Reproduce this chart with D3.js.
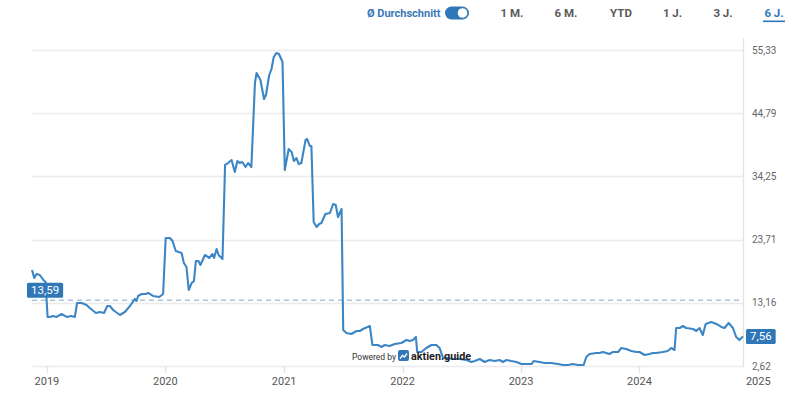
<!DOCTYPE html>
<html>
<head>
<meta charset="utf-8">
<script src="https://cdn.jsdelivr.net/npm/d3@7/dist/d3.min.js"></script>
<style>
  html, body { margin: 0; padding: 0; background: #fff; }
  svg { display: block; font-family: Roboto, "Noto Sans", Arial, sans-serif; }
</style>
</head>
<body>
<svg id="chart" width="800" height="400"></svg>
<script>
// ---------- DATA ----------
const dates = [
  "2018-11-16","2018-11-23","2018-11-30","2018-12-10","2018-12-21","2018-12-28",
  "2019-01-03","2019-01-10","2019-01-20","2019-01-31","2019-02-15","2019-03-03","2019-03-18","2019-03-28",
  "2019-04-04","2019-04-18","2019-05-03","2019-05-13","2019-06-01","2019-06-13","2019-06-26","2019-07-06",
  "2019-07-14","2019-07-24","2019-08-14","2019-08-29","2019-09-14","2019-09-29","2019-10-04","2019-10-09",
  "2019-10-20","2019-11-01","2019-11-09","2019-11-24","2019-12-13","2019-12-25",
  "2020-01-02","2020-01-15","2020-01-23","2020-02-02","2020-02-20","2020-02-27","2020-03-06","2020-03-13",
  "2020-03-22","2020-03-29","2020-04-04","2020-04-12","2020-04-18","2020-05-02","2020-05-15","2020-05-25",
  "2020-05-30","2020-06-07","2020-06-13","2020-06-25","2020-07-03","2020-07-12","2020-07-23","2020-08-02",
  "2020-08-10","2020-08-17","2020-08-25","2020-09-04","2020-09-12","2020-09-22","2020-10-03","2020-10-08",
  "2020-10-20","2020-10-31","2020-11-06","2020-11-16","2020-11-23","2020-11-30","2020-12-08","2020-12-16",
  "2020-12-27",
  "2021-01-03","2021-01-15","2021-01-24","2021-01-31","2021-02-08","2021-02-15","2021-02-23","2021-03-08",
  "2021-03-13","2021-03-21","2021-03-26","2021-04-02","2021-04-11","2021-04-19","2021-04-26","2021-05-08",
  "2021-05-22","2021-06-01","2021-06-09","2021-06-16","2021-06-27","2021-07-02","2021-07-12","2021-07-27",
  "2021-08-12","2021-08-22","2021-09-01","2021-09-22","2021-09-30","2021-10-17","2021-10-28","2021-11-07",
  "2021-11-22","2021-12-08","2021-12-28",
  "2022-01-13","2022-01-23","2022-02-02","2022-02-11","2022-02-15","2022-02-28","2022-03-15","2022-03-31",
  "2022-04-15","2022-04-25","2022-05-06","2022-05-21","2022-06-05","2022-06-26","2022-07-17","2022-08-01",
  "2022-08-11","2022-08-27","2022-09-11","2022-09-26","2022-10-12","2022-10-27","2022-11-06","2022-11-17",
  "2022-12-02","2022-12-18",
  "2023-01-02","2023-01-17","2023-02-02","2023-02-09","2023-02-27","2023-03-15","2023-04-04","2023-04-25",
  "2023-05-10","2023-05-26","2023-06-10","2023-06-25","2023-07-13","2023-07-21","2023-07-31","2023-08-21",
  "2023-08-31","2023-09-10","2023-10-01","2023-10-11","2023-10-27","2023-11-06","2023-11-21","2023-12-07",
  "2023-12-22",
  "2024-01-01","2024-01-17","2024-02-01","2024-02-11","2024-02-22","2024-03-13","2024-03-28","2024-04-08",
  "2024-04-18","2024-04-23","2024-05-04","2024-05-14","2024-05-24","2024-06-14","2024-06-24","2024-07-04",
  "2024-07-14","2024-07-23","2024-08-09","2024-08-25","2024-09-09","2024-09-19","2024-10-02","2024-10-15",
  "2024-10-25","2024-11-04","2024-11-15"
];
const prices = [
  18.63,17.30,17.97,17.80,16.97,16.63,
  10.80,10.80,10.96,10.80,11.29,10.80,10.96,10.80,
  13.13,13.13,12.80,12.30,11.46,11.63,11.46,12.63,
  12.63,11.96,11.13,11.63,12.63,13.80,13.46,14.30,
  14.63,14.63,14.80,14.30,14.13,14.63,
  23.97,23.97,23.47,21.80,21.47,19.80,19.13,15.30,
  16.46,16.80,20.13,20.13,19.47,21.14,20.64,21.30,
  20.64,22.14,21.14,20.47,36.15,36.48,36.98,34.98,
  36.81,36.48,36.65,35.81,36.48,35.81,49.83,51.49,
  50.33,47.16,47.83,51.16,52.16,54.16,54.83,54.66,
  53.33,
  35.31,38.82,38.32,36.81,37.31,36.31,36.48,40.32,
  40.48,39.32,39.32,26.64,25.81,26.31,26.47,27.97,
  28.14,29.64,29.47,27.47,28.81,8.63,8.13,7.96,
  8.46,8.46,8.79,9.29,6.12,6.12,5.79,6.12,
  5.96,6.29,6.46,
  6.96,6.79,6.96,7.46,4.96,4.96,5.62,6.12,
  6.12,5.62,3.95,3.95,3.79,3.79,3.62,3.29,
  3.45,3.79,3.29,3.62,3.45,3.62,3.29,3.62,
  3.45,3.29,
  2.95,2.95,2.95,3.45,3.29,3.12,3.12,2.95,
  2.79,2.79,2.95,2.79,2.79,4.12,4.62,4.79,
  4.79,4.96,4.62,4.96,4.96,5.62,5.46,5.12,
  4.96,
  4.96,4.45,4.62,4.79,4.79,4.96,5.12,5.62,
  5.29,8.96,8.96,9.29,8.96,8.79,8.46,8.96,
  7.79,9.63,9.96,9.63,9.13,8.96,9.79,8.96,
  7.46,6.96,7.56
];
const averageValue = 13.59;
const yTickValues = [2.62, 13.16, 23.71, 34.25, 44.79, 55.33];
const xTickYears = [2019, 2020, 2021, 2022, 2023, 2024, 2025];
const periodButtons = ["1 M.", "6 M.", "YTD", "1 J.", "3 J.", "6 J."];
const activePeriod = "6 J.";
const averageToggleLabel = "Ø Durchschnitt";

// ---------- LAYOUT ----------
const plot = { left: 32, right: 743, top: 50, bottom: 366, axisTop: 38 };
const buttonCenters = [512, 566, 621, 672.5, 723, 774];
const COLORS = {
  line: "#3d86c6", label: "#2f77b7", grid: "#ebebeb", axis: "#e3e3e3",
  avg: "#a8c3e2", tickText: "#666", yearText: "#555", btn: "#5a5a5a"
};

const parse = d3.timeParse("%Y-%m-%d");
const data = dates.map((d, i) => ({ date: parse(d), value: prices[i] }));
const fmt = v => d3.format(".2f")(v).replace(".", ",");

const svg = d3.select("#chart");

const x = d3.scaleTime()
  .domain(d3.extent(data, d => d.date))
  .range([plot.left, plot.right]);
const y = d3.scaleLinear()
  .domain([yTickValues[0], yTickValues[yTickValues.length - 1]])
  .range([plot.bottom, plot.top]);

// horizontal gridlines
svg.append("g").selectAll("line").data(yTickValues).join("line")
  .attr("x1", plot.left).attr("x2", plot.right + 1)
  .attr("y1", d => Math.round(y(d)) + 0.5).attr("y2", d => Math.round(y(d)) + 0.5)
  .attr("stroke", COLORS.grid).attr("stroke-width", 1.3);

// right axis line
svg.append("line")
  .attr("x1", plot.right + 0.5).attr("x2", plot.right + 0.5)
  .attr("y1", plot.axisTop).attr("y2", plot.bottom)
  .attr("stroke", COLORS.axis).attr("stroke-width", 1.3);

// y tick labels (right)
svg.append("g").selectAll("text").data(yTickValues).join("text")
  .attr("x", plot.right + 9).attr("y", d => y(d) + 3.5)
  .attr("font-size", 10).attr("fill", COLORS.tickText)
  .text(d => fmt(d));

// x ticks & labels
const yearDates = xTickYears.map(yr => new Date(yr, 0, 1));
svg.append("g").selectAll("line")
  .data(yearDates.filter(d => x(d) <= plot.right)).join("line")
  .attr("x1", d => Math.round(x(d)) + 0.5).attr("x2", d => Math.round(x(d)) + 0.5)
  .attr("y1", plot.bottom).attr("y2", plot.bottom + 7)
  .attr("stroke", COLORS.axis).attr("stroke-width", 1.3);
svg.append("g").selectAll("text").data(yearDates).join("text")
  .attr("x", d => x(d)).attr("y", plot.bottom + 19)
  .attr("text-anchor", "middle").attr("font-size", 11).attr("fill", COLORS.yearText)
  .text(d => d.getFullYear());

// average dashed line
svg.append("line")
  .attr("x1", plot.left).attr("x2", plot.right)
  .attr("y1", y(averageValue)).attr("y2", y(averageValue))
  .attr("stroke", COLORS.avg).attr("stroke-width", 1.6)
  .attr("stroke-dasharray", "5,4");

// price line
const line = d3.line().x(d => x(d.date)).y(d => y(d.value)).curve(d3.curveLinear);
svg.append("path").datum(data)
  .attr("d", line).attr("fill", "none")
  .attr("stroke", COLORS.line).attr("stroke-width", 2.1)
  .attr("stroke-linejoin", "round");

// value badges
function badge(cx, cy, text, anchorLeft) {
  const g = svg.append("g");
  const t = g.append("text").attr("font-size", 11.5).attr("fill", "#fff")
    .attr("text-anchor", "middle").attr("x", 0).attr("y", 0).text(text);
  const w = t.node().getComputedTextLength() + 8;
  const h = 15;
  const x0 = anchorLeft ? cx : cx - w / 2;
  g.insert("rect", "text")
    .attr("x", x0).attr("y", cy - h / 2).attr("width", w).attr("height", h)
    .attr("rx", 1.5).attr("fill", COLORS.label);
  t.attr("x", x0 + w / 2).attr("y", cy + 4);
}
badge(27, y(averageValue) - 10, fmt(averageValue), true);
const last = data[data.length - 1];
badge(plot.right + 3, y(last.value), fmt(last.value), true);

// powered by
svg.append("text").attr("x", 352).attr("y", 360)
  .attr("font-size", 8.5).attr("fill", "#333").text("Powered by");
const logo = svg.append("g").attr("transform", "translate(398,350)");
logo.append("rect").attr("width", 11).attr("height", 11).attr("rx", 2).attr("fill", "#2f77b7");
logo.append("path").attr("d", "M2,8.5 L4.5,5.5 L6.5,7 L9,3.5")
  .attr("fill", "none").attr("stroke", "#fff").attr("stroke-width", 1.4);
svg.append("text").attr("x", 411).attr("y", 360)
  .attr("font-size", 10.8).attr("font-weight", "bold").attr("fill", "#222").text("aktien.guide");

// header
svg.append("text").attr("x", 367).attr("y", 17)
  .attr("font-size", 11).attr("font-weight", "bold").attr("fill", "#3a78b5")
  .text(averageToggleLabel);
svg.append("rect").attr("x", 445).attr("y", 6.5).attr("width", 24).attr("height", 13)
  .attr("rx", 6.5).attr("fill", COLORS.label);
svg.append("circle").attr("cx", 462.5).attr("cy", 13).attr("r", 4.8).attr("fill", "#fff");

svg.append("g").selectAll("text").data(periodButtons).join("text")
  .attr("x", (d, i) => buttonCenters[i]).attr("y", 17)
  .attr("text-anchor", "middle").attr("font-size", 11.5).attr("font-weight", "bold")
  .attr("fill", d => d === activePeriod ? COLORS.label : COLORS.btn)
  .text(d => d);
const ai = periodButtons.indexOf(activePeriod);
svg.append("rect").attr("x", buttonCenters[ai] - 11).attr("y", 20.5)
  .attr("width", 22).attr("height", 1.6).attr("fill", COLORS.label);
</script>
</body>
</html>
